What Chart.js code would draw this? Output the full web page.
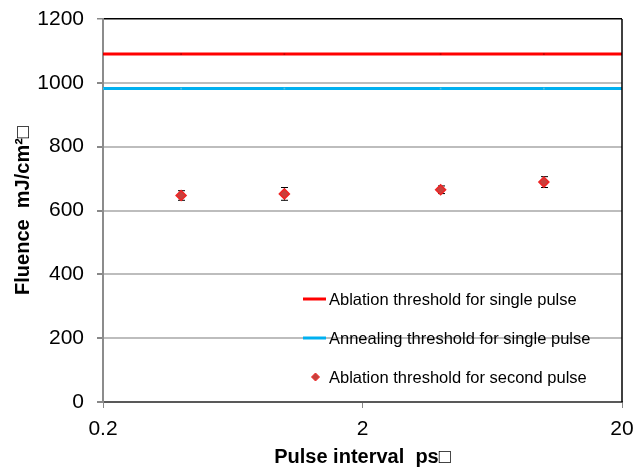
<!DOCTYPE html>
<html>
<head>
<meta charset="utf-8">
<script src="https://cdn.jsdelivr.net/npm/chart.js@4.4.1/dist/chart.umd.min.js"></script>
<style>
  html, body { margin: 0; padding: 0; background: #fff; }
  #wrap { width: 635px; height: 469px; }
</style>
</head>
<body>
<div id="wrap"><canvas id="chart"></canvas></div>
<script>
// threshold lines for the single pulse (drawn across the whole x range)
const lineX = [0.2, 0.4, 1, 4, 10, 20];
const ablationSingle = [1090, 1090, 1090, 1090, 1090, 1090];
const annealingSingle = [982, 982, 982, 982, 982, 982];

// measured thresholds for the second pulse
const pulseInterval = [0.4, 1, 4, 10];
const ablationSecond = [647, 652, 665, 689];
const ablationSecondErr = [15, 20, 12, 17];

const xTicks = [0.2, 2, 20];
const seriesNames = [
  "Ablation threshold for single pulse",
  "Annealing threshold for single pulse",
  "Ablation threshold for second pulse"
];

const FONT = "'Liberation Sans', Arial, sans-serif";

function toPoints(xs, ys) {
  return xs.map((x, i) => ({ x: x, y: ys[i] }));
}

// error bars for the second pulse series, placed with the chart scales
const errorBars = {
  id: "errorBars",
  beforeDatasetsDraw(chart) {
    const xs = chart.scales.x, ys = chart.scales.y, ctx = chart.ctx;
    ctx.save();
    ctx.strokeStyle = "#000";
    ctx.lineWidth = 1;
    pulseInterval.forEach((x, i) => {
      const px = Math.round(xs.getPixelForValue(x)) + 0.5;
      const top = ys.getPixelForValue(ablationSecond[i] + ablationSecondErr[i]);
      const bot = ys.getPixelForValue(ablationSecond[i] - ablationSecondErr[i]);
      ctx.beginPath();
      ctx.moveTo(px, top); ctx.lineTo(px, bot);
      ctx.moveTo(px - 3.5, top); ctx.lineTo(px + 3.5, top);
      ctx.moveTo(px - 3.5, bot); ctx.lineTo(px + 3.5, bot);
      ctx.stroke();
    });
    ctx.restore();
  }
};

// right edge of the plot frame
const frame = {
  id: "frame",
  afterDraw(chart) {
    const a = chart.chartArea, ctx = chart.ctx;
    ctx.save();
    ctx.strokeStyle = "#000";
    ctx.lineWidth = 1.5;
    ctx.beginPath();
    ctx.moveTo(a.right, a.top);
    ctx.lineTo(a.right, a.bottom);
    ctx.stroke();
    ctx.restore();
  }
};

// legend sits inside the plot, lower right
const insideLegend = {
  id: "insideLegend",
  afterDraw(chart) {
    const ctx = chart.ctx;
    const a = chart.chartArea;
    const x0 = a.left + 200;
    const rows = [a.top + 280, a.top + 319, a.top + 358];
    ctx.save();
    ctx.font = "16.5px " + FONT;
    ctx.textBaseline = "middle";
    ctx.fillStyle = "#000";
    chart.data.datasets.forEach((ds, i) => {
      const y = rows[i];
      if (i < 2) {
        ctx.strokeStyle = ds.borderColor;
        ctx.lineWidth = 3;
        ctx.beginPath();
        ctx.moveTo(x0, y);
        ctx.lineTo(x0 + 23, y);
        ctx.stroke();
      } else {
        const cx = x0 + 12.5;
        ctx.fillStyle = ds.backgroundColor;
        ctx.strokeStyle = ds.borderColor;
        ctx.lineWidth = 1;
        ctx.beginPath();
        ctx.moveTo(cx, y - 4); ctx.lineTo(cx + 4, y);
        ctx.lineTo(cx, y + 4); ctx.lineTo(cx - 4, y);
        ctx.closePath();
        ctx.fill(); ctx.stroke();
        ctx.fillStyle = "#000";
      }
      ctx.fillText(ds.label, x0 + 26, y + 1);
    });
    ctx.restore();
  }
};

new Chart(document.getElementById("chart"), {
  type: "scatter",
  data: {
    datasets: [
      {
        label: seriesNames[0],
        data: toPoints(lineX, ablationSingle),
        showLine: true,
        borderColor: "#ff0000",
        backgroundColor: "#c00000",
        borderWidth: 3,
        pointRadius: 1.2,
        pointStyle: "rect",
        pointBorderWidth: 0
      },
      {
        label: seriesNames[1],
        data: toPoints(lineX, annealingSingle),
        showLine: true,
        borderColor: "#00b0f0",
        backgroundColor: "#5cc0e0",
        borderWidth: 3,
        pointRadius: 1.2,
        pointStyle: "rect",
        pointBorderWidth: 0
      },
      {
        label: seriesNames[2],
        data: toPoints(pulseInterval, ablationSecond),
        showLine: false,
        pointStyle: "rectRot",
        pointRadius: 5,
        backgroundColor: "#c8403c",
        borderColor: "#f02424",
        borderWidth: 1.5
      }
    ]
  },
  options: {
    responsive: true,
    maintainAspectRatio: false,
    animation: false,
    devicePixelRatio: 1,
    layout: { padding: { left: 0, right: 13, top: 19, bottom: 0 } },
    plugins: {
      legend: { display: false },
      tooltip: { enabled: false }
    },
    scales: {
      x: {
        type: "logarithmic",
        min: 0.2,
        max: 20,
        afterBuildTicks(scale) {
          scale.ticks = xTicks.map(v => ({ value: v }));
        },
        afterFit(scale) {
          scale.height = 67;
          scale.paddingLeft = 0;
          scale.paddingRight = 0;
        },
        ticks: {
          color: "#000",
          font: { family: FONT, size: 21 },
          padding: 9,
          maxRotation: 0,
          autoSkip: false,
          callback: v => String(v)
        },
        grid: {
          drawOnChartArea: false,
          drawTicks: true,
          tickLength: 6,
          color: "#888",
          lineWidth: 1
        },
        border: { color: "#595959", width: 2 },
        title: {
          display: true,
          text: "Pulse interval  ps\u25A1",
          color: "#000",
          font: { family: FONT, size: 20, weight: "bold" },
          padding: { top: 0, bottom: 0 }
        }
      },
      y: {
        min: 0,
        max: 1200,
        afterFit(scale) {
          scale.width = 103;
          scale.paddingTop = 0;
          scale.paddingBottom = 0;
        },
        ticks: {
          stepSize: 200,
          color: "#000",
          font: { family: FONT, size: 21 },
          padding: 13,
          callback: v => String(v)
        },
        grid: {
          color: c => c.tick.value === 1200 ? "#000" : (c.tick.value === 0 ? "rgba(0,0,0,0)" : "#bdbdbd"),
          lineWidth: c => c.tick.value === 1200 ? 1.5 : 2,
          tickColor: "#888",
          tickLength: 6
        },
        border: { color: "#8c8c8c", width: 2 },
        title: {
          display: true,
          text: "Fluence  mJ/cm\u00B2\u25A1",
          color: "#000",
          font: { family: FONT, size: 20, weight: "bold" },
          padding: { top: 11, bottom: 0 }
        }
      }
    }
  },
  plugins: [errorBars, frame, insideLegend]
});
</script>
</body>
</html>
